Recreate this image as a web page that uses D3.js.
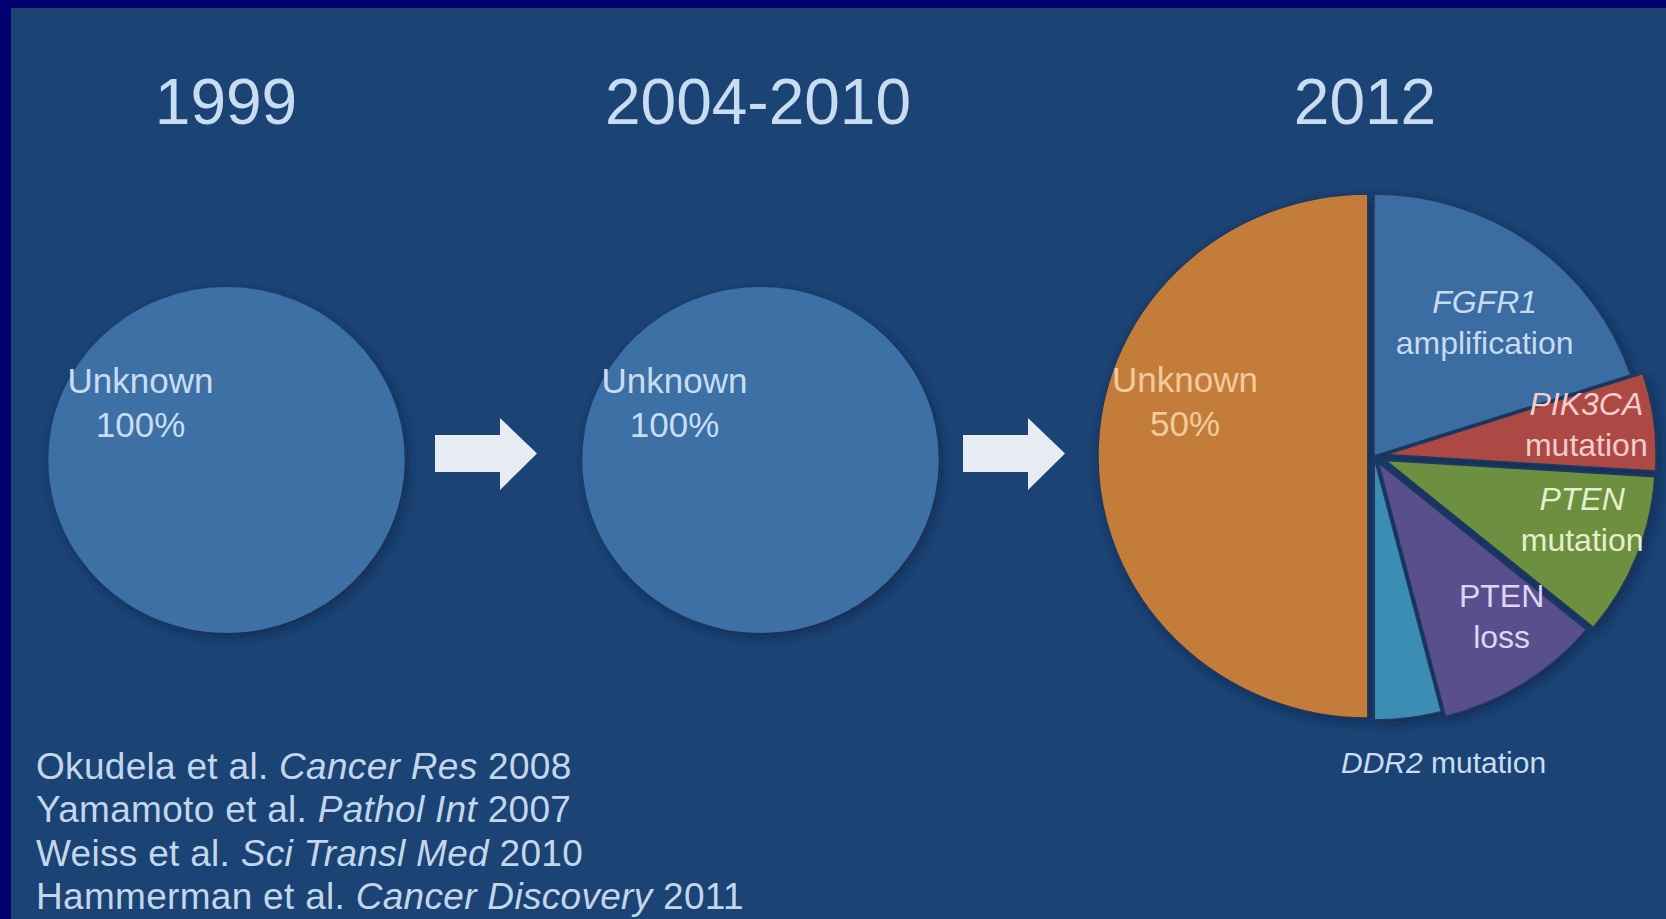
<!DOCTYPE html>
<html>
<head>
<meta charset="utf-8">
<script src="https://cdnjs.cloudflare.com/ajax/libs/d3/7.8.5/d3.min.js"></script>
<style>
body{margin:0;background:#1b4374;overflow:hidden;}
text{font-family:"Liberation Sans",Arial,sans-serif;}
</style>
</head>
<body>
<svg id="slide" width="1666" height="919"></svg>
<script>
// periods across the slide and the share still unexplained
var periods = ["1999", "2004-2010", "2012"];
var unknownShare = [100, 100, 50];

// 2012 breakdown, percent of cases (clockwise from 12 o'clock)
var drivers = ["FGFR1 amplification", "PIK3CA mutation", "PTEN mutation", "PTEN loss", "DDR2 mutation", "Unknown"];
var driverShare = [20, 6, 10, 10, 4, 50];
var driverColors = ["#3b6ca2", "#ad4944", "#6d8f3f", "#5a4f8d", "#3b8db3", "#c47b3b"];

// references at the bottom left
var refAuthors = ["Okudela et al.", "Yamamoto et al.", "Weiss et al.", "Hammerman et al."];
var refJournals = ["Cancer Res", "Pathol Int", "Sci Transl Med", "Cancer Discovery"];
var refYears = ["2008", "2007", "2010", "2011"];

var svg = d3.select("#slide");
var W = 1666, H = 919;
var textCol = "#c9ddf2";

// dark frame on the left and top, panel behind
svg.append("rect").attr("width", W).attr("height", H).attr("fill", "#00006e");
svg.append("rect").attr("x", 11).attr("y", 8).attr("width", W - 11).attr("height", H - 8).attr("fill", "#1b4374");

var defs = svg.append("defs");
var shadow = defs.append("filter").attr("id", "shadow")
  .attr("x", "-20%").attr("y", "-20%").attr("width", "140%").attr("height", "140%");
shadow.append("feDropShadow").attr("dx", 3).attr("dy", 4).attr("stdDeviation", 5)
  .attr("flood-color", "#0b2445").attr("flood-opacity", 0.7);

var titleX = [226, 758, 1365];
svg.selectAll(".period")
  .data(periods)
  .enter().append("text")
  .attr("class", "period")
  .attr("x", function(d, i){ return titleX[i]; })
  .attr("y", 124)
  .attr("text-anchor", "middle")
  .attr("font-size", 64)
  .attr("fill", textCol)
  .text(function(d){ return d; });

// the two "all unknown" circles, a one-slice pie each
var circleX = [226.5, 760.5];
var pie = d3.pie().sort(null).value(function(d){ return d; });
var circleArc = d3.arc().innerRadius(0).outerRadius(173);

circleX.forEach(function(cx, i){
  var g = svg.append("g")
    .attr("transform", "translate(" + cx + ",460) scale(1.03,1)");
  g.selectAll("path")
    .data(pie([unknownShare[i]]))
    .enter().append("path")
    .attr("d", circleArc)
    .attr("fill", "#3e70a5")
    .attr("filter", "url(#shadow)");
  var t = svg.append("text")
    .attr("text-anchor", "middle")
    .attr("font-size", 35)
    .attr("fill", textCol);
  t.append("tspan").attr("x", cx - 86).attr("y", 393).text("Unknown");
  t.append("tspan").attr("x", cx - 86).attr("y", 437).text(unknownShare[i] + "%");
});

// arrows between the panels
var arrowX = [435, 963];
arrowX.forEach(function(x0){
  var p = d3.path();
  p.moveTo(x0, 435);
  p.lineTo(x0 + 65, 435);
  p.lineTo(x0 + 65, 418);
  p.lineTo(x0 + 102, 453.5);
  p.lineTo(x0 + 65, 490);
  p.lineTo(x0 + 65, 472);
  p.lineTo(x0, 472);
  p.closePath();
  svg.append("path").attr("d", p.toString()).attr("fill", "#e6ecf2");
});

// 2012 pie
var pcx = 1374, pcy = 456, R = 262, sx = 1.03;
var slices = drivers.map(function(name, i){
  return { name: name, value: driverShare[i], color: driverColors[i] };
});
var driverPie = d3.pie().sort(null).value(function(d){ return d.value; });
var arc = d3.arc().innerRadius(0).outerRadius(R);
var labelArc = d3.arc().innerRadius(212).outerRadius(212);

var explode = { "Unknown": 6, "FGFR1 amplification": 0, "PIK3CA mutation": 12,
  "PTEN mutation": 12, "PTEN loss": 8, "DDR2 mutation": 2 };

var pg = svg.append("g")
  .attr("transform", "translate(" + pcx + "," + pcy + ") scale(" + sx + ",1)")
  .attr("filter", "url(#shadow)");

var arcs = driverPie(slices);
pg.selectAll("path")
  .data(arcs)
  .enter().append("path")
  .attr("d", arc)
  .attr("fill", function(d){ return d.data.color; })
  .attr("stroke", "#1d3a62")
  .attr("stroke-width", 1.5)
  .attr("transform", function(d){
    var a = (d.startAngle + d.endAngle) / 2, e = explode[d.data.name];
    return "translate(" + (Math.sin(a) * e) + "," + (-Math.cos(a) * e) + ")";
  });

// label text, gene names in italics
var labelLines = {
  "FGFR1 amplification": [["FGFR1", true], ["amplification", false]],
  "PIK3CA mutation": [["PIK3CA", true], ["mutation", false]],
  "PTEN mutation": [["PTEN", true], ["mutation", false]],
  "PTEN loss": [["PTEN", false], ["loss", false]],
  "Unknown": [["Unknown", false], ["50%", false]]
};
var labelNudge = {
  "FGFR1 amplification": [-14, 38], "PIK3CA mutation": [2, -5],
  "PTEN mutation": [11, -15], "PTEN loss": [14, -18],
  "DDR2 mutation": [43, 96], "Unknown": [23, -53]
};
var labelCol = {
  "FGFR1 amplification": "#c6dbf0", "PIK3CA mutation": "#f2cccc",
  "PTEN mutation": "#e4f0cc", "PTEN loss": "#dcd6f2",
  "DDR2 mutation": textCol, "Unknown": "#f1cb9c"
};

arcs.forEach(function(d){
  var c = labelArc.centroid(d), nd = labelNudge[d.data.name];
  var x = pcx + c[0] + nd[0], y = pcy + c[1] + nd[1];
  var t = svg.append("text")
    .attr("text-anchor", "middle")
    .attr("fill", labelCol[d.data.name])
    .attr("font-size", d.data.name === "Unknown" ? 35 : 32);
  if (d.data.name === "DDR2 mutation") {
    t.attr("x", x).attr("y", y + 11).attr("font-size", 30);
    t.append("tspan").attr("font-style", "italic").text("DDR2");
    t.append("tspan").text(" mutation");
    return;
  }
  var lines = labelLines[d.data.name];
  var gap = d.data.name === "Unknown" ? 44 : 41;
  lines.forEach(function(l, i){
    t.append("tspan")
      .attr("x", x)
      .attr("y", y + 11 + (i - (lines.length - 1) / 2) * gap)
      .attr("font-style", l[1] ? "italic" : "normal")
      .text(l[0]);
  });
});

// references
var refs = svg.selectAll(".ref")
  .data(refAuthors)
  .enter().append("text")
  .attr("class", "ref")
  .attr("x", 36)
  .attr("y", function(d, i){ return 779 + i * 43.3; })
  .attr("font-size", 37)
  .attr("letter-spacing", 0.3)
  .attr("fill", "#c3d6ec");
refs.append("tspan").text(function(d){ return d + " "; });
refs.append("tspan").attr("font-style", "italic").text(function(d, i){ return refJournals[i] + " "; });
refs.append("tspan").text(function(d, i){ return refYears[i]; });
</script>
</body>
</html>
